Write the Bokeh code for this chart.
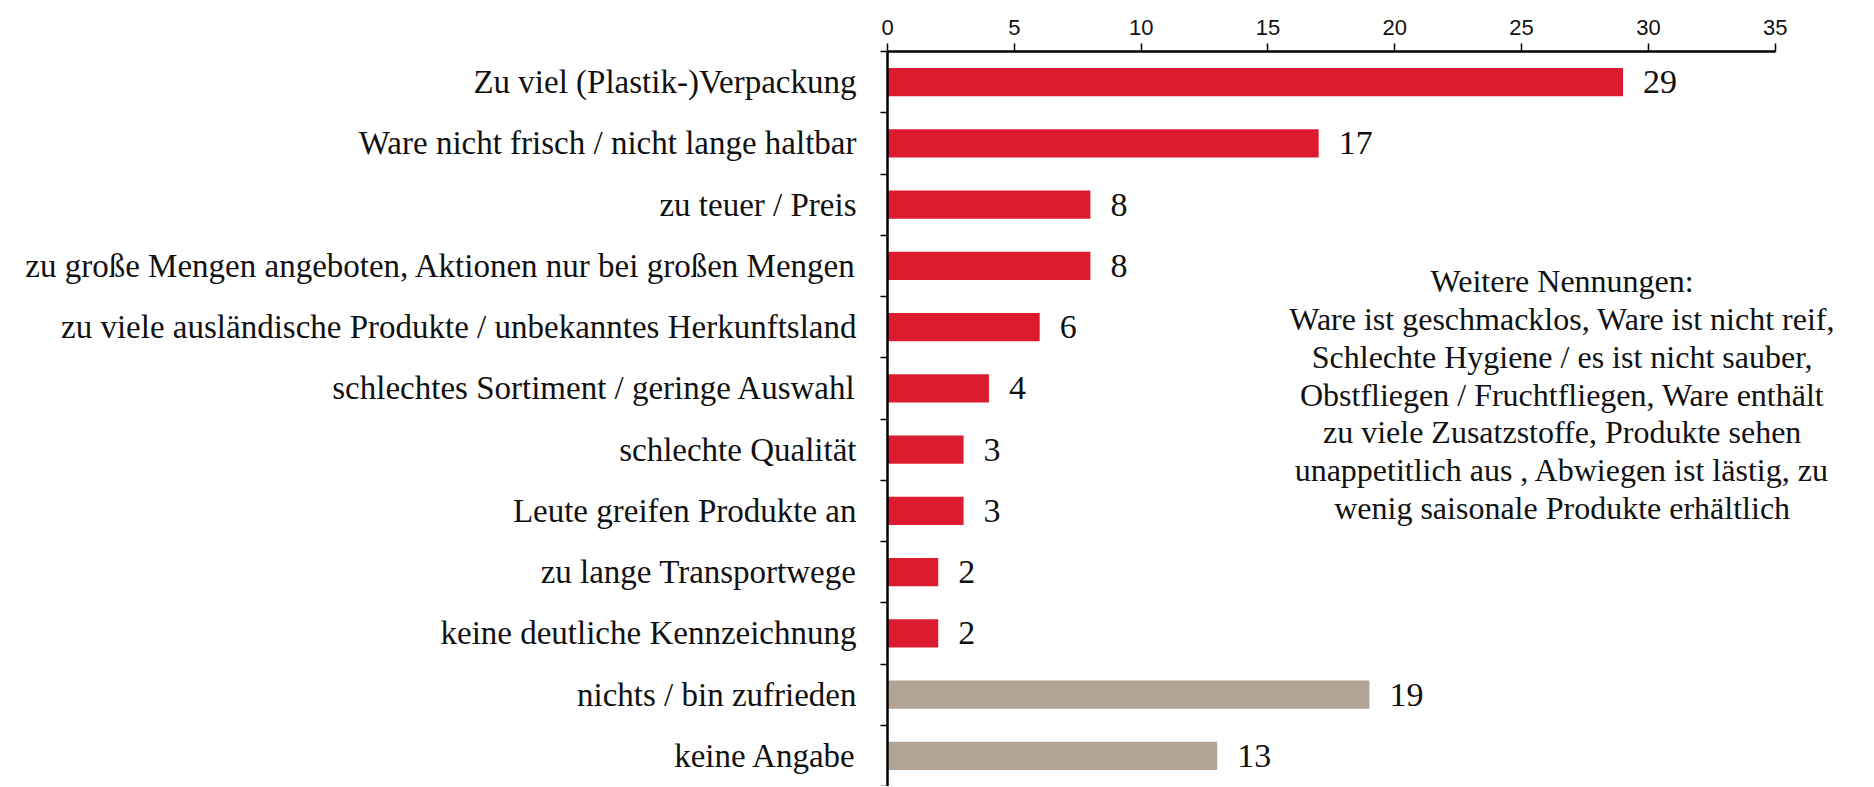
from bokeh.plotting import figure
from bokeh.models import ColumnDataSource, FixedTicker, Range1d, Label
from bokeh.embed import file_html
from bokeh.resources import INLINE

categories = [
    "Zu viel (Plastik-)Verpackung",
    "Ware nicht frisch / nicht lange haltbar",
    "zu teuer / Preis",
    "zu große Mengen angeboten, Aktionen nur bei großen Mengen",
    "zu viele ausländische Produkte / unbekanntes Herkunftsland",
    "schlechtes Sortiment / geringe Auswahl",
    "schlechte Qualität",
    "Leute greifen Produkte an",
    "zu lange Transportwege",
    "keine deutliche Kennzeichnung",
    "nichts / bin zufrieden",
    "keine Angabe",
]
values = [29, 17, 8, 8, 6, 4, 3, 3, 2, 2, 19, 13]
groups = ["kritik"] * 10 + ["neutral"] * 2
x_ticks = [0, 5, 10, 15, 20, 25, 30, 35]

note_lines = [
    "Weitere Nennungen:",
    "Ware ist geschmacklos, Ware ist nicht reif,",
    "Schlechte Hygiene / es ist nicht sauber,",
    "Obstfliegen / Fruchtfliegen, Ware enthält",
    "zu viele Zusatzstoffe, Produkte sehen",
    "unappetitlich aus , Abwiegen ist lästig, zu",
    "wenig saisonale Produkte erhältlich",
]

color_map = {"kritik": "#DC1C2E", "neutral": "#B3A395"}
SERIF = "Liberation Serif"
SANS = "Liberation Sans"

n = len(categories)
pos = list(range(n))
src = ColumnDataSource(dict(
    y=pos,
    v=values,
    label=[str(v) for v in values],
    color=[color_map[g] for g in groups],
))

p = figure(
    width=1866, height=786,
    x_range=Range1d(0, 38.6), y_range=Range1d(n - 0.5, -0.5),
    x_axis_location="above",
    output_backend="svg", toolbar_location=None,
    min_border_left=887, min_border_right=0, min_border_top=51, min_border_bottom=0,
)
p.outline_line_color = None
p.xgrid.visible = False
p.ygrid.visible = False

p.hbar(y="y", left=0, right="v", height=0.46, color="color", line_color=None, source=src)
p.text(x="v", y="y", text="label", source=src, x_offset=20,
       text_baseline="middle", text_align="left",
       text_font=SANS, text_font_size="34px", text_color="#111111")

# x axis (top)
xa = p.xaxis[0]
xa.ticker = FixedTicker(ticks=x_ticks)
xa.bounds = (0, 35)
xa.axis_line_width = 2.5
xa.axis_line_color = "black"
xa.major_tick_line_width = 1.5
xa.major_tick_line_color = "black"
xa.major_tick_out = 8
xa.major_tick_in = 0
xa.minor_tick_line_color = None
xa.major_label_text_font = SANS
xa.major_label_text_font_size = "22px"
xa.major_label_text_color = "#111111"
xa.major_label_standoff = 9

# y axis (left)
ya = p.yaxis[0]
ya.ticker = FixedTicker(ticks=pos, minor_ticks=[i - 0.5 for i in range(n + 1)])
ya.major_label_overrides = {i: c for i, c in enumerate(categories)}
ya.axis_line_width = 2.5
ya.axis_line_color = "black"
ya.major_tick_line_color = None
ya.major_tick_out = 0
ya.major_tick_in = 0
ya.minor_tick_line_color = "black"
ya.minor_tick_line_width = 1.5
ya.minor_tick_out = 7
ya.minor_tick_in = 0
ya.major_label_text_font = SERIF
ya.major_label_text_font_size = "33px"
ya.major_label_text_color = "#111111"
ya.major_label_standoff = 24

for i, line in enumerate(note_lines):
    p.add_layout(Label(
        x=26.6, y=3.24 + 0.62 * i, text=line,
        text_align="center", text_baseline="middle",
        text_font=SERIF, text_font_size="32px", text_color="#111111",
    ))

open("out.html", "w").write(file_html(p, INLINE))
